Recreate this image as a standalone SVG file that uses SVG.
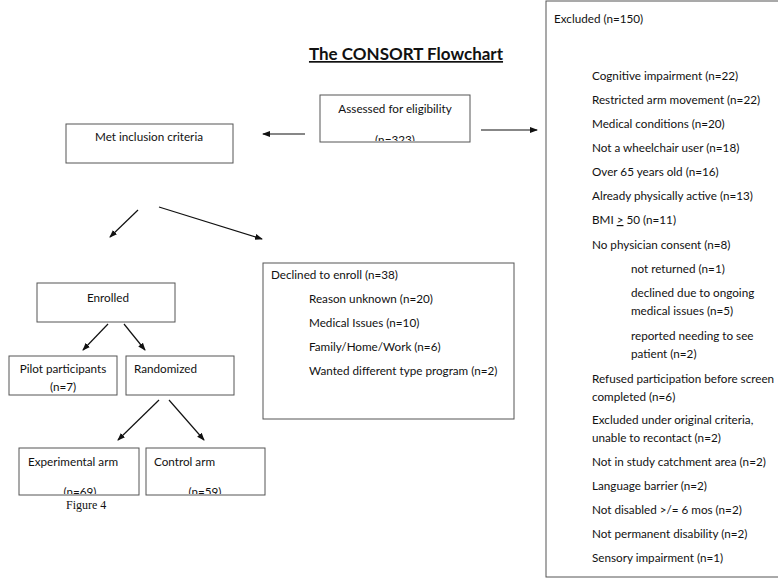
<svg xmlns="http://www.w3.org/2000/svg" width="778" height="579" viewBox="0 0 778 579">
<style>
text{font-family:Lato,"Liberation Sans",sans-serif;font-size:11.7px;fill:#111}
.c{text-anchor:middle}
.box{fill:#fff;stroke:#555;stroke-width:1}
.ar{stroke:#111;stroke-width:1.2;fill:none;marker-end:url(#ah)}
.title{font-size:17px;font-weight:bold;text-decoration:underline}
.fig{font-family:"Liberation Serif",serif;font-size:12px}
</style>
<defs>
<marker id="ah" markerWidth="8" markerHeight="8" refX="7" refY="4" orient="auto" markerUnits="userSpaceOnUse">
<path d="M0,1 L8,4 L0,7 Z" fill="#111"/>
</marker>
<clipPath id="cA"><rect x="320" y="95" width="150" height="46"/></clipPath>
<clipPath id="cE"><rect x="19" y="448" width="120" height="46"/></clipPath>
<clipPath id="cC"><rect x="146" y="448" width="119" height="46"/></clipPath>
</defs>
<rect width="778" height="579" fill="#fff"/>
<text class="title c" x="406" y="60">The CONSORT Flowchart</text>

<g id="connectors">
<line class="ar" x1="305" y1="134" x2="263" y2="134"/>
<line class="ar" x1="481" y1="130" x2="537" y2="130"/>
<line class="ar" x1="138" y1="210" x2="110" y2="237"/>
<line class="ar" x1="159" y1="207" x2="262" y2="239"/>
<line class="ar" x1="108" y1="324" x2="83" y2="350"/>
<line class="ar" x1="124" y1="324" x2="145" y2="350"/>
<line class="ar" x1="159" y1="400" x2="118" y2="440"/>
<line class="ar" x1="169" y1="400" x2="204" y2="440"/>
</g>

<g id="assessed">
<rect class="box" x="320" y="95" width="150" height="47"/>
<text class="c" x="395" y="113">Assessed for eligibility</text>
<text class="c" x="395" y="144" clip-path="url(#cA)">(n=323)</text>
</g>

<g id="met">
<rect class="box" x="66" y="124" width="167" height="39"/>
<text class="c" x="149" y="141">Met inclusion criteria</text>
</g>

<g id="enrolled">
<rect class="box" x="37" y="283" width="138" height="39"/>
<text class="c" x="108" y="302">Enrolled</text>
</g>

<g id="pilot">
<rect class="box" x="9" y="356" width="108" height="39"/>
<text class="c" x="63" y="373">Pilot participants</text>
<text class="c" x="63" y="391">(n=7)</text>
</g>

<g id="randomized">
<rect class="box" x="126" y="356" width="108" height="39"/>
<text x="134" y="373">Randomized</text>
</g>

<g id="experimental">
<rect class="box" x="19" y="448" width="120" height="47"/>
<text x="28" y="466">Experimental arm</text>
<text class="c" x="80" y="496" clip-path="url(#cE)">(n=69)</text>
</g>

<g id="control">
<rect class="box" x="146" y="448" width="119" height="47"/>
<text x="154" y="466">Control arm</text>
<text class="c" x="205" y="496" clip-path="url(#cC)">(n=59)</text>
</g>

<text class="fig" x="66" y="509">Figure 4</text>

<g id="declined">
<rect class="box" x="263" y="263" width="251" height="156"/>
<text x="271" y="279">Declined to enroll (n=38)</text>
<text x="309" y="303">Reason unknown (n=20)</text>
<text x="309" y="327">Medical Issues (n=10)</text>
<text x="309" y="351">Family/Home/Work (n=6)</text>
<text x="309" y="375">Wanted different type program (n=2)</text>
</g>

<g id="excluded">
<rect class="box" x="546" y="1" width="240" height="576"/>
<text x="554" y="23">Excluded (n=150)</text>
<text x="592" y="80">Cognitive impairment (n=22)</text>
<text x="592" y="104">Restricted arm movement (n=22)</text>
<text x="592" y="128">Medical conditions (n=20)</text>
<text x="592" y="152">Not a wheelchair user (n=18)</text>
<text x="592" y="176">Over 65 years old (n=16)</text>
<text x="592" y="200">Already physically active (n=13)</text>
<text x="592" y="224">BMI <tspan text-decoration="underline">&gt;</tspan> 50 (n=11)</text>
<text x="592" y="249">No physician consent (n=8)</text>
<text x="631" y="273">not returned (n=1)</text>
<text x="631" y="297">declined due to ongoing</text>
<text x="631" y="315">medical issues (n=5)</text>
<text x="631" y="340">reported needing to see</text>
<text x="631" y="358">patient (n=2)</text>
<text x="592" y="383">Refused participation before screen</text>
<text x="592" y="401">completed (n=6)</text>
<text x="592" y="424">Excluded under original criteria,</text>
<text x="592" y="442">unable to recontact (n=2)</text>
<text x="592" y="466">Not in study catchment area (n=2)</text>
<text x="592" y="490">Language barrier (n=2)</text>
<text x="592" y="514">Not disabled &gt;/= 6 mos (n=2)</text>
<text x="592" y="538">Not permanent disability (n=2)</text>
<text x="592" y="562">Sensory impairment (n=1)</text>
</g>
</svg>
